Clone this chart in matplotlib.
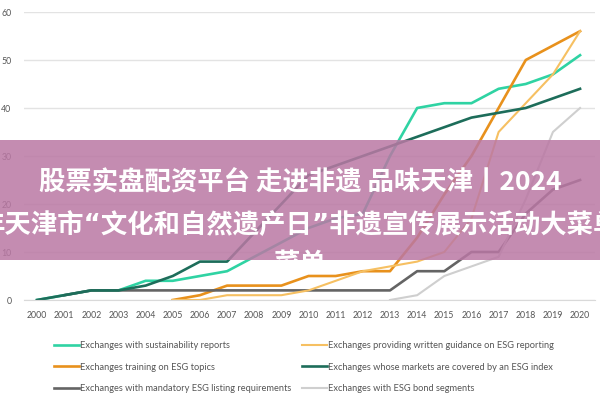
import numpy as np
import matplotlib
matplotlib.use("Agg")
import matplotlib.pyplot as plt

years = list(range(2000, 2021))
nan = np.nan
sustainability = [0, 1, 2, 2, 4, 4, 5, 6, 9, 12, 15, 17, 18, 30, 40, 41, 41, 44, 45, 47, 51]
training = [nan]*5 + [0, 1, 3, 3, 3, 5, 5, 6, 6, 13, 22, 30, 40, 50, 53, 56]
mandatory = [nan, 1, 2, 2, 2, 2, 2, 2, 2, 2, 2, 2, 2, 2, 6, 6, 10, 10, 18, 23, 25]
guidance = [nan]*5 + [0, 0, 1, 1, 1, 2, 4, 6, 7, 8, 10, 17, 35, 41, 47, 56]
esg_index = [0, 1, 2, 2, 3, 5, 8, 8, 14, 20, 26, 28, 30, 32, 34, 36, 38, 39, 40, 42, 44]
bonds = [nan]*13 + [0, 1, 5, 7, 9, 21, 35, 40]

series = [
    ("Exchanges with sustainability reports", sustainability, "#2fd3a3", 1.9),
    ("Exchanges training on ESG topics", training, "#e8911c", 1.9),
    ("Exchanges with mandatory ESG listing requirements", mandatory, "#646464", 1.9),
    ("Exchanges providing written guidance on ESG reporting", guidance, "#f6c062", 1.5),
    ("Exchanges whose markets are covered by an ESG index", esg_index, "#1d6d5a", 1.9),
    ("Exchanges with ESG bond segments", bonds, "#cfcfcf", 1.5),
]
yticks = [0, 10, 20, 30, 40, 50, 60]
title_lines = ["股票实盘配资平台 走进非遗 品味天津丨2024",
               "年天津市“文化和自然遗产日”非遗宣传展示活动大菜单",
               "菜单"]

fig = plt.figure(figsize=(6, 4), dpi=100)
ax = fig.add_axes([24/600, 1-300/400, (595-24)/600, (300-12)/400])
x = np.array(years)
for label, vals, color, lw in series:
    ax.plot(x, vals, color=color, lw=lw, label=label, solid_joinstyle="round")
ax.set_xlim(1999.52, 2020.55)
ax.set_ylim(0, 60)
ax.set_xticks(years)
ax.set_xticklabels([str(y) for y in years], fontsize=6.3, color="#555555", family="Lato")
ax.set_yticks(yticks)
ax.set_yticklabels([str(v) for v in yticks], fontsize=6.3, color="#555555", family="Lato")
ax.tick_params(length=0)
ax.tick_params(axis="y", pad=9)
ax.tick_params(axis="x", pad=8)
for s in ["top", "right", "left"]:
    ax.spines[s].set_visible(False)
ax.spines["bottom"].set_color("#d9d9d9")
ax.grid(axis="y", color="#e3e3e3", lw=1)
ax.set_axisbelow(True)

leg = fig.legend(loc="upper left", bbox_to_anchor=(46/600, 1-333/400), ncol=2,
                 frameon=False, handlelength=2.6, handletextpad=0.15,
                 columnspacing=1.2, labelspacing=1.32,
                 prop={"family": "Lato", "size": 6.7})
for t in leg.get_texts():
    t.set_color("#555555")

# overlay banner
ov = fig.add_axes([0, 1-260/400, 1, 120/400])
ov.set_xlim(0, 600)
ov.set_ylim(260, 140)
ov.axis("off")
ov.add_patch(plt.Rectangle((0, 140), 600, 120, color=(186/255, 120/255, 164/255), alpha=0.85, lw=0))
fams = [["Noto Sans CJK SC", "DejaVu Sans"],
        ["DejaVu Sans", "Noto Sans CJK SC"],
        ["Noto Sans CJK SC", "DejaVu Sans"]]
for ypos, txt, fam in zip([183, 226, 264], title_lines, fams):
    ov.text(300, ypos, txt, ha="center", va="center", color="white", fontsize=19,
            fontweight="bold", family=fam, clip_on=True)

fig.savefig("out.png", dpi=100)
